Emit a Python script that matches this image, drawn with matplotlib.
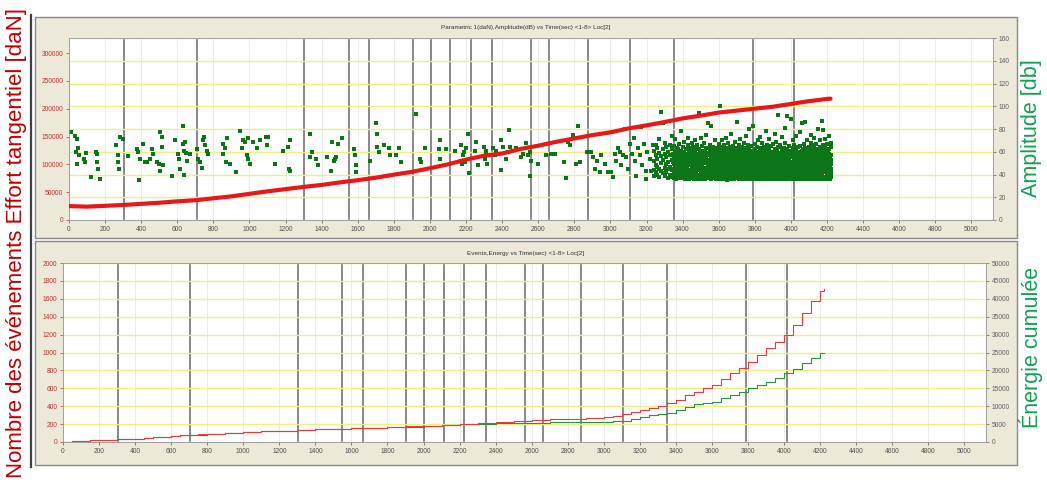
import matplotlib.pyplot as plt
from matplotlib.patches import Rectangle
from matplotlib.lines import Line2D

plt.rcParams['font.family'] = ['Liberation Sans', 'DejaVu Sans']

W, H = 1047, 484

# ---- top panel: tangential force (daN, left) and hit amplitude (dB, right)
force_t = [0, 100, 200, 300, 400, 500, 600, 700, 800, 900, 1000, 1100, 1200, 1300,
           1400, 1500, 1600, 1700, 1800, 1900, 2000, 2100, 2200, 2300, 2400, 2500,
           2600, 2700, 2800, 2900, 3000, 3100, 3200, 3300, 3400, 3500, 3600, 3700,
           3800, 3900, 4000, 4100, 4200, 4220]
force_daN = [25000, 24000, 25500, 27000, 29000, 31000, 33500, 35500, 39000, 42500,
             47000, 51500, 55500, 59500, 63000, 67500, 71500, 76000, 81500, 86500,
             93000, 100000, 108500, 115500, 119500, 127500, 133500, 140500, 146500,
             152500, 157500, 164500, 170000, 176000, 182500, 187500, 193000, 196500,
             200000, 203500, 208500, 213500, 217500, 218000]

# sparse hits (time s, amplitude dB)
amp_sparse = [
    (9, 77), (33, 74), (42, 71), (39, 60), (52, 63), (57, 57), (42, 49), (83, 54),
    (89, 51), (94, 59), (120, 38), (150, 60), (157, 58), (153, 51), (162, 45), (172, 36),
    (260, 66), (273, 57), (273, 51), (279, 45), (282, 73), (301, 71), (329, 56), (375, 62),
    (384, 60), (393, 54), (390, 35), (412, 67), (421, 51), (434, 51), (448, 54), (458, 62),
    (467, 58), (489, 51), (500, 49), (504, 43), (507, 77), (513, 73), (513, 64), (519, 48),
    (568, 39), (587, 70), (605, 58), (611, 54), (615, 45), (629, 83), (633, 67), (642, 69),
    (637, 61), (648, 59), (652, 52), (637, 40), (670, 58), (711, 62), (716, 54), (725, 51),
    (735, 46), (744, 70), (748, 73), (753, 66), (762, 61), (772, 58), (855, 67), (864, 63),
    (855, 58), (869, 51), (873, 72), (891, 49), (928, 42), (947, 78), (956, 63), (965, 70),
    (975, 69), (984, 57), (993, 54), (993, 72), (1002, 49), (1021, 69), (1039, 63),
    (1058, 70), (1094, 73), (1098, 66), (1104, 73), (1141, 49), (1187, 61), (1214, 64),
    (1224, 70), (1220, 45), (1224, 43), (1334, 55), (1338, 76), (1344, 60), (1371, 54),
    (1381, 48), (1427, 55), (1454, 43), (1460, 69), (1467, 52), (1473, 54), (1482, 55),
    (1491, 67), (1515, 72), (1578, 62), (1584, 57), (1589, 48), (1593, 42),
    (1667, 52), (1700, 85), (1704, 76), (1707, 64), (1718, 60), (1744, 66), (1774, 63),
    (1781, 57), (1811, 57), (1829, 63), (1837, 51), (1921, 93), (1947, 54), (1953, 51),
    (1971, 63), (2051, 62), (2058, 70), (2054, 54), (2088, 62), (2137, 61), (2174, 66),
    (2174, 52), (2180, 49), (2183, 57), (2187, 60), (2193, 51), (2198, 63), (2211, 76),
    (2217, 41), (2248, 61), (2257, 69), (2267, 48), (2298, 64), (2303, 54), (2309, 57),
    (2313, 61), (2316, 49), (2350, 63), (2359, 57), (2364, 61), (2396, 70), (2396, 44),
    (2405, 64), (2423, 54), (2433, 60), (2438, 79), (2442, 64), (2479, 63), (2506, 55),
    (2516, 58), (2530, 68), (2543, 57), (2553, 60), (2556, 39), (2562, 52), (2599, 49),
    (2645, 57), (2673, 58), (2691, 58), (2741, 51), (2752, 37), (2765, 69), (2778, 66),
    (2793, 75), (2811, 49), (2820, 83), (2830, 51), (2870, 60), (2894, 60), (2903, 55),
    (2913, 45), (2925, 52), (2940, 42), (2949, 57), (2968, 49), (2986, 42), (3005, 42),
    (3014, 38), (3023, 58), (3032, 52), (3042, 63), (3051, 60), (3060, 48), (3069, 57),
    (3079, 80), (3088, 55), (3097, 45), (3110, 67), (3121, 58), (3128, 72), (3134, 52),
    (3143, 39), (3152, 63), (3162, 57), (3171, 82), (3176, 48), (3184, 67), (3195, 43),
    (3199, 36), (3202, 60), (3217, 54), (3226, 43), (3236, 66),
]

# dense hit cloud, one column of amplitudes per time
amp_dense = [
    (3240, [44, 52, 61, 39]), (3250, [48, 57, 42, 66]), (3260, [40, 54, 63, 47]),
    (3270, [59, 45, 38, 71]), (3280, [50, 43, 95, 56]), (3290, [41, 62, 53, 85]),
    (3300, [46, 58, 39, 68]), (3310, [55, 42, 49, 64]), (3320, [37, 51, 60, 45]),
    (3330, [47, 66, 40, 57]), (3340, [53, 44, 62, 38, 74]),
    (3350, [42, 58, 49, 37, 65, 54]), (3360, [46, 39, 61, 52, 71, 44]),
    (3370, [57, 41, 48, 63, 38, 55]), (3380, [44, 52, 67, 40, 59, 47]),
    (3390, [38, 56, 49, 61, 43, 78]), (3400, [51, 45, 64, 39, 57, 48]),
    (3410, [42, 60, 53, 37, 69, 46]), (3420, [55, 40, 47, 62, 50, 43]),
    (3430, [39, 58, 44, 66, 52, 72]), (3440, [48, 41, 57, 63, 38, 54]),
    (3450, [45, 61, 50, 40, 68, 56]), (3460, [53, 37, 59, 46, 64, 42]),
    (3470, [41, 55, 48, 70, 39, 60]), (3480, [58, 44, 51, 38, 66, 47]),
    (3490, [40, 62, 54, 94, 45, 57]), (3500, [49, 43, 60, 37, 72, 53]),
    (3510, [56, 39, 47, 65, 42, 61]), (3520, [44, 58, 52, 40, 68, 50]),
    (3530, [38, 63, 46, 55, 41, 75]), (3540, [51, 45, 59, 39, 85, 48]),
    (3550, [42, 57, 50, 66, 37, 62]), (3560, [47, 40, 83, 54, 61, 44]),
    (3570, [55, 49, 38, 64, 43, 58]), (3580, [39, 60, 46, 52, 70, 41]),
    (3590, [48, 43, 57, 37, 63, 54]),
    (3600, [44, 52, 40, 61, 47, 67, 38, 56]), (3610, [50, 37, 58, 45, 64, 41, 100, 53]),
    (3620, [39, 55, 48, 62, 43, 70, 51, 46]), (3630, [57, 42, 49, 38, 60, 45, 66, 53]),
    (3640, [46, 40, 54, 63, 37, 58, 44, 72]), (3650, [41, 59, 47, 52, 68, 39, 56, 43]),
    (3660, [53, 38, 61, 45, 49, 64, 42, 57]), (3670, [44, 56, 40, 50, 37, 62, 47, 76]),
    (3680, [48, 42, 58, 65, 39, 53, 45, 60]), (3690, [37, 54, 46, 41, 61, 50, 69, 43]),
    (3700, [55, 39, 48, 63, 44, 86, 52, 58]), (3710, [42, 60, 38, 51, 47, 66, 41, 56]),
    (3720, [49, 44, 57, 40, 62, 37, 53, 71]), (3730, [38, 52, 45, 59, 43, 64, 48, 55]),
    (3740, [56, 41, 50, 37, 68, 46, 61, 44]), (3750, [45, 58, 39, 53, 48, 63, 42, 74]),
    (3760, [40, 47, 60, 44, 55, 38, 66, 51]), (3770, [52, 37, 46, 62, 41, 57, 49, 80]),
    (3780, [43, 55, 39, 50, 65, 45, 59, 47]), (3790, [58, 42, 53, 38, 61, 48, 83, 44]),
    (3800, [39, 51, 45, 67, 41, 56, 47, 62]), (3810, [47, 60, 40, 54, 37, 64, 43, 52]),
    (3820, [54, 44, 58, 42, 49, 70, 38, 46]), (3830, [41, 57, 48, 63, 45, 39, 55, 73]),
    (3840, [50, 38, 61, 46, 53, 42, 68, 57]), (3850, [44, 55, 40, 59, 37, 50, 47, 64]),
    (3860, [56, 43, 51, 39, 62, 78, 45, 48]), (3870, [38, 60, 46, 54, 42, 66, 49, 57]),
    (3880, [48, 41, 57, 37, 63, 52, 44, 71]), (3890, [53, 46, 39, 60, 48, 56, 42, 65]),
    (3900, [42, 58, 50, 44, 67, 38, 54, 47]), (3910, [59, 40, 47, 55, 43, 62, 51, 76]),
    (3920, [45, 52, 37, 61, 49, 41, 57, 69]), (3930, [40, 56, 48, 64, 92, 53, 44, 59]),
    (3940, [51, 43, 58, 39, 47, 66, 55, 42]), (3950, [47, 62, 41, 54, 37, 50, 60, 73]),
    (3960, [56, 38, 52, 45, 63, 43, 49, 58]), (3970, [43, 59, 46, 68, 40, 55, 51, 81]),
    (3980, [50, 41, 57, 48, 91, 62, 38, 45]), (3990, [39, 54, 44, 60, 52, 47, 65, 42]),
    (4000, [58, 46, 40, 56, 89, 43, 61, 50]), (4010, [44, 51, 63, 38, 55, 48, 70, 41]),
    (4020, [52, 40, 47, 59, 44, 66, 37, 54]), (4030, [41, 57, 53, 46, 62, 39, 49, 74]),
    (4040, [49, 43, 60, 38, 55, 51, 45, 64]), (4050, [55, 47, 42, 65, 39, 58, 52, 77]),
    (4060, [38, 53, 48, 57, 44, 85, 61, 46]), (4070, [46, 60, 40, 52, 67, 43, 56, 50]),
    (4080, [53, 39, 58, 45, 49, 63, 86, 41]), (4090, [42, 55, 47, 61, 38, 54, 70, 57]),
    (4100, [57, 44, 51, 40, 64, 48, 59, 45]), (4110, [40, 49, 62, 53, 43, 68, 37, 75]),
    (4120, [48, 58, 42, 55, 46, 61, 51, 66]), (4130, [54, 37, 50, 63, 41, 57, 45, 72]),
    (4140, [45, 60, 39, 52, 67, 47, 56, 43]), (4150, [51, 42, 58, 46, 62, 38, 54, 80]),
    (4160, [39, 56, 49, 64, 44, 59, 41, 70]), (4170, [58, 45, 53, 40, 87, 50, 62, 47]),
    (4180, [43, 61, 48, 55, 38, 66, 79, 52]), (4190, [50, 38, 57, 44, 63, 46, 59, 71]),
    (4200, [46, 54, 41, 60, 49, 67, 37, 56]), (4210, [55, 42, 62, 47, 39, 58, 52, 74]),
    (4220, [41, 49, 57, 38, 64, 45, 53, 68]),
]

# low-amplitude core of the cloud (between the columns above)
amp_core = [
    (3345, [39, 45, 51, 58]), (3355, [43, 49, 56, 37]), (3365, [36, 50, 59, 45]),
    (3375, [41, 47, 53, 62]), (3385, [37, 44, 57, 50]), (3395, [46, 40, 53, 60]),
    (3405, [38, 49, 44, 56]), (3415, [42, 51, 58, 36]), (3425, [45, 37, 55, 49]),
    (3435, [41, 48, 60, 36]), (3445, [44, 52, 37, 59]), (3455, [39, 47, 54, 43]),
    (3465, [36, 50, 44, 57]), (3475, [43, 37, 52, 63]), (3485, [40, 48, 55, 36]),
    (3495, [46, 38, 51, 59]), (3505, [41, 55, 36, 47]), (3515, [38, 45, 52, 58]),
    (3525, [43, 36, 50, 61]), (3535, [46, 40, 57, 53]), (3545, [37, 44, 51, 63]),
    (3555, [40, 47, 55, 36]), (3565, [42, 37, 52, 58]), (3575, [45, 40, 50, 62]),
    (3585, [36, 43, 55, 48]), (3595, [40, 46, 52, 59]),
    (3605, [36, 42, 49, 55, 46, 60]), (3615, [39, 45, 52, 58, 43, 36]),
    (3625, [37, 44, 50, 56, 41, 61]), (3635, [40, 47, 54, 36, 51, 44]),
    (3645, [38, 43, 49, 57, 61, 35]), (3655, [36, 45, 51, 54, 40, 48]),
    (3665, [41, 37, 47, 55, 59, 43]), (3675, [39, 46, 52, 36, 57, 42]),
    (3685, [36, 43, 50, 56, 47, 62]), (3695, [40, 45, 53, 38, 58, 49]),
    (3705, [37, 42, 48, 55, 60, 45]), (3715, [36, 44, 50, 57, 39, 53]),
    (3725, [41, 46, 52, 36, 59, 44]), (3735, [38, 43, 49, 55, 61, 47]),
    (3745, [36, 42, 48, 54, 40, 58]), (3755, [39, 45, 51, 57, 36, 43]),
    (3765, [37, 43, 49, 55, 60, 46]), (3775, [40, 36, 47, 53, 58, 44]),
    (3785, [37, 42, 50, 56, 45, 61]), (3795, [36, 45, 51, 40, 57, 48]),
    (3805, [38, 43, 49, 55, 59, 36]), (3815, [41, 46, 52, 37, 58, 44]),
    (3825, [36, 42, 48, 53, 60, 45]), (3835, [39, 44, 51, 57, 36, 47]),
    (3845, [37, 43, 49, 55, 61, 40]), (3855, [36, 46, 52, 42, 58, 48]),
    (3865, [40, 44, 50, 56, 37, 53]), (3875, [36, 43, 47, 54, 59, 41]),
    (3885, [38, 45, 51, 57, 36, 49]), (3895, [41, 36, 48, 55, 60, 44]),
    (3905, [37, 43, 50, 56, 46, 39]), (3915, [36, 45, 52, 41, 58, 48]),
    (3925, [39, 44, 49, 55, 61, 36]), (3935, [37, 42, 47, 53, 58, 45]),
    (3945, [36, 44, 50, 56, 40, 48]), (3955, [39, 45, 52, 58, 36, 43]),
    (3965, [37, 41, 48, 54, 60, 46]), (3975, [36, 43, 50, 56, 39, 47]),
    (3985, [40, 46, 53, 37, 59, 44]), (3995, [36, 42, 48, 55, 61, 51]),
    (4005, [38, 45, 51, 57, 36, 42]), (4015, [37, 43, 49, 54, 60, 46]),
    (4025, [36, 44, 50, 56, 40, 48]), (4035, [39, 45, 52, 58, 36, 42]),
    (4045, [37, 41, 47, 54, 60, 50]), (4055, [36, 43, 49, 55, 39, 46]),
    (4065, [40, 45, 51, 57, 37, 62]), (4075, [36, 42, 48, 54, 59, 44]),
    (4085, [38, 44, 50, 56, 36, 47]), (4095, [37, 43, 49, 55, 61, 40]),
    (4105, [36, 45, 51, 57, 42, 48]), (4115, [39, 44, 50, 56, 36, 53]),
    (4125, [37, 42, 47, 53, 59, 45]), (4135, [36, 44, 50, 57, 40, 48]),
    (4145, [39, 45, 52, 58, 36, 43]), (4155, [37, 41, 48, 54, 60, 46]),
    (4165, [36, 43, 50, 56, 39, 47]), (4175, [40, 46, 53, 37, 59, 44]),
    (4185, [36, 42, 48, 55, 61, 51]), (4195, [38, 45, 51, 57, 36, 42]),
    (4205, [37, 43, 49, 54, 60, 46]), (4215, [36, 44, 50, 56, 40, 48]),
]

# ---- bottom panel: cumulative events (left) and cumulative energy (right)
cum_t = [0, 50, 100, 150, 200, 250, 300, 350, 400, 450, 500, 550, 600, 650, 700, 750,
         800, 900, 1000, 1100, 1200, 1300, 1400, 1500, 1600, 1700, 1800, 1900, 2000,
         2100, 2200, 2300, 2400, 2500, 2600, 2700, 2800, 2900, 3000, 3050, 3100, 3150,
         3200, 3250, 3300, 3350, 3400, 3450, 3500, 3550, 3600, 3650, 3700, 3750, 3800,
         3850, 3900, 3950, 4000, 4050, 4100, 4150, 4200, 4220]
events_n = [0, 8, 14, 18, 22, 26, 30, 33, 38, 44, 52, 60, 68, 74, 78, 85, 92, 102, 115,
            122, 128, 135, 141, 147, 153, 160, 167, 174, 181, 190, 201, 214, 226, 236,
            246, 254, 262, 272, 283, 296, 313, 333, 357, 380, 404, 432, 470, 520, 560,
            600, 637, 700, 767, 830, 897, 970, 1047, 1120, 1196, 1310, 1438, 1570, 1690,
            1706]
energy_cum = [0, 150, 300, 420, 520, 620, 720, 800, 920, 1080, 1280, 1480, 1680, 1820,
              1920, 2080, 2250, 2500, 2800, 3000, 3150, 3350, 3500, 3650, 3800, 3980,
              4150, 4320, 4500, 4700, 4950, 5100, 5200, 5300, 5400, 5450, 5500, 5580,
              5670, 5750, 5900, 6400, 7100, 7500, 7800, 8200, 9000, 9800, 10500, 10900,
              11250, 12200, 13100, 14000, 15000, 15900, 16850, 18000, 19200, 20500,
              22000, 23600, 24800, 25000]

# load-step markers (s)
marker_t = [303, 707, 1303, 1550, 1663, 1905, 2005, 2113, 2227, 2346, 2562, 2662,
            2876, 3106, 3352, 3790, 4018]

top_title = 'Parametric 1(daN),Amplitude(dB) vs Time(sec) <1-8> Loc[2]'
bot_title = 'Events,Energy vs Time(sec) <1-8> Loc[2]'


def box(x0, y0, x1, y1):
    return [x0 / W, 1 - y1 / H, (x1 - x0) / W, (y1 - y0) / H]


fig = plt.figure(figsize=(W / 100, H / 100), dpi=100)

# window frames (kept under the axes)
for y0, y1 in [(17, 238), (241, 465)]:
    fig.patches.append(Rectangle((35 / W, 1 - y1 / H), (1017 - 35) / W, (y1 - y0) / H,
                                 transform=fig.transFigure, facecolor='#ECE9D8',
                                 edgecolor='#8a8a8a', lw=1.0, zorder=-10))
fig.add_artist(Line2D([31 / W, 31 / W], [1 - 15 / H, 1 - 467 / H], color='#404040',
                      lw=1.6, zorder=-10))

xt = list(range(0, 5001, 200))


def setup(axl, axr, ymax_l, yt_l, ymax_r, yt_r):
    axr.set_zorder(1)
    axl.set_zorder(2)
    axl.patch.set_visible(False)
    axr.patch.set_visible(True)
    axr.patch.set_facecolor('white')
    axl.set_xlim(0, 5120)
    axl.set_xticks(xt)
    axl.set_ylim(0, ymax_l)
    axl.set_yticks(yt_l)
    axr.set_ylim(0, ymax_r)
    axr.set_yticks(yt_r)
    axr.yaxis.grid(True, color='#F0F080', lw=1.0)
    for x in xt:
        axr.axvline(x, color='#e8e8e8', lw=0.6, zorder=0)
    for x in marker_t:
        axr.axvline(x, color='#686868', lw=1.1, zorder=1)
    for a in (axl, axr):
        for s in a.spines.values():
            s.set_color('#a0a0a0')
            s.set_linewidth(0.6)
        a.tick_params(labelsize=4.8, length=2.5, width=0.5, pad=1.5)
    axl.tick_params(axis='y', colors='#c03030')
    axl.tick_params(axis='x', colors='#505050')
    axr.tick_params(axis='y', colors='#606060')


# top
ax1 = fig.add_axes(box(69, 38, 993, 220))
ax1r = ax1.twinx()
setup(ax1, ax1r, 327000, list(range(0, 300001, 50000)), 160, list(range(0, 161, 20)))
st = [p[0] for p in amp_sparse]
sd = [p[1] for p in amp_sparse]
for t, vals in amp_dense + amp_core:
    st += [t] * len(vals)
    sd += vals
ax1r.scatter(st, sd, marker='s', s=5, color='#0b7518', lw=0, zorder=3)
ax1.plot(force_t, force_daN, color='#e81818', lw=3.0, solid_capstyle='round', zorder=4)

# bottom
ax2 = fig.add_axes(box(63, 263, 986, 442))
ax2r = ax2.twinx()
setup(ax2, ax2r, 2000, list(range(0, 2001, 200)), 50000, list(range(0, 50001, 5000)))
ax2r.plot(cum_t, energy_cum, color='#2a9040', lw=0.8, drawstyle='steps-post', zorder=3)
ax2.plot(cum_t, events_n, color='#e83a3a', lw=0.8, drawstyle='steps-post', zorder=4)

fig.text(526 / W, 1 - 27 / H, top_title, fontsize=4.6, ha='center', va='center', color='#333333')
fig.text(526 / W, 1 - 254 / H, bot_title, fontsize=4.6, ha='center', va='center', color='#333333')

fig.text(17 / W, 1 - 243 / H, 'Nombre des événements Effort tangentiel [daN]', rotation=90,
         fontsize=16, color='#c00000', ha='center', va='center')
fig.text(1031 / W, 1 - 128 / H, 'Amplitude [db]', rotation=90, fontsize=15.5,
         color='#12a050', ha='center', va='center')
fig.text(1031 / W, 1 - 347 / H, 'Énergie cumulée', rotation=90, fontsize=15.5,
         color='#12a050', ha='center', va='center')

fig.savefig('out.png', dpi=100)
